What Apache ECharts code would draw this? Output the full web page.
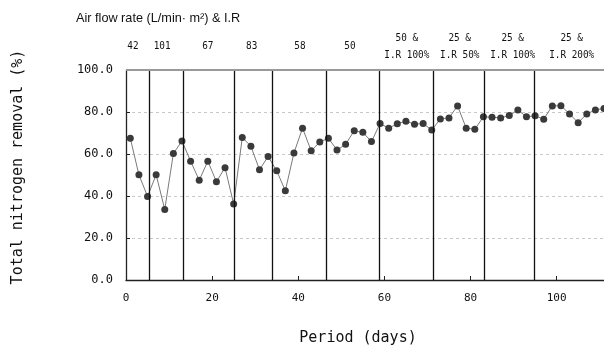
<!DOCTYPE html>
<html>
<head>
<meta charset="utf-8">
<script src="https://cdn.jsdelivr.net/npm/echarts@6/dist/echarts.min.js"></script>
<style>
	html, body{ margin:0; padding:0; background:#fff; }
	#main{ width:604px; height:351px; }
</style>
</head>
<body>
<div id="main"></div>
<script>
// operating days and total nitrogen removal (%)
var days = [1,3,5,7,9,11,13,15,17,19,21,23,25,27,29,31,33,35,37,39,41,43,45,47,49,51,53,55,
	57,59,61,63,65,67,69,71,73,75,77,79,81,83,85,87,89,91,93,95,97,99,101,103,105,107,109,111];
var tn_removal = [67.5,50.1,39.8,50.1,33.6,60.2,66.2,56.6,47.5,56.6,46.8,53.5,36.2,67.9,63.7,52.5,58.8,52.0,42.5,60.5,
	72.3,61.5,65.7,67.5,61.9,64.6,71.1,70.3,65.9,74.5,72.3,74.4,75.6,74.2,74.5,71.4,76.7,77.2,82.9,72.3,
	71.8,77.7,77.5,77.2,78.3,81.0,77.7,78.2,76.6,82.9,83.0,79.1,74.9,79.1,81.0,81.7];
// phase boundaries (days)
var phase_bounds = [5.3,13.4,25.1,33.9,46.6,58.7,71.4,83.1,94.7];
// phase labels and the day where each label is centred
var phase_labels = ['42','101','67','83','58','50','50 &\nI.R 100%','25 &\nI.R 50%','25 &\nI.R 100%','25 &\nI.R 200%'];
var phase_label_pos = [1.6,8.4,19,29.2,40.4,52,65.2,77.5,89.8,103.5];

var mono = 'DejaVu Sans Mono';
var chart = echarts.init(document.getElementById('main'));

var line_data = days.map(function(d, i){ return [d, tn_removal[i]]; });
var mark_data = phase_bounds.map(function(d){ return {xAxis: d}; });
mark_data.push({yAxis: 100, lineStyle: {color: '#999', type: 'solid', width: 2}});

chart.setOption({
	animation: false,
	title: {
		text: 'Air flow rate (L/min\u00b7 m\u00b2) & I.R',
		left: 71,
		top: 7,
		textStyle: {fontFamily: 'Liberation Sans', fontSize: 12.7, fontWeight: 'normal', color: '#111'}
	},
	grid: {left: 126, top: 70, right: 0, bottom: 69},
	xAxis: {
		type: 'value',
		min: 0,
		max: 111,
		interval: 20,
		name: 'Period (days)',
		nameLocation: 'middle',
		nameGap: 51,
		nameTextStyle: {fontFamily: mono, fontSize: 15, color: '#111', padding: [0, 14, 0, 0]},
		axisLine: {lineStyle: {color: '#222', width: 1.3}},
		axisTick: {inside: true, length: 4, lineStyle: {color: '#222'}},
		axisLabel: {fontFamily: mono, fontSize: 11, color: '#111', margin: 13, showMaxLabel: false},
		splitLine: {show: false}
	},
	yAxis: {
		type: 'value',
		min: 0,
		max: 100,
		interval: 20,
		name: 'Total nitrogen removal (%)',
		nameLocation: 'middle',
		nameGap: 100,
		nameTextStyle: {fontFamily: mono, fontSize: 15, color: '#111', padding: [0, 0, 0, 16]},
		axisLine: {show: true, lineStyle: {color: '#222', width: 1.3}},
		axisTick: {show: true, inside: true, length: 4, lineStyle: {color: '#222'}},
		axisLabel: {fontFamily: mono, fontSize: 12, color: '#111', margin: 13,
			formatter: function(v){ return v.toFixed(1); }},
		splitLine: {show: true, lineStyle: {color: '#c8c8c8', type: [3, 3], width: 1}}
	},
	series: [{
		type: 'line',
		data: line_data,
		symbol: 'circle',
		symbolSize: 7,
		clip: false,
		lineStyle: {color: '#7a7a7a', width: 1},
		itemStyle: {color: '#3a3a3a'},
		markLine: {
			silent: true,
			symbol: 'none',
			label: {show: false},
			lineStyle: {color: '#111', type: 'solid', width: 1.3},
			data: mark_data
		}
	}]
});

// phase annotations above the plot
var graphics = phase_labels.map(function(txt, i){
	var p = chart.convertToPixel({gridIndex: 0}, [phase_label_pos[i], 100]);
	var two = txt.indexOf('\n') >= 0;
	return {
		type: 'text',
		x: p[0],
		y: two ? p[1] - 23 : p[1] - 24,
		scaleX: 0.85,
		style: {
			text: txt,
			fontFamily: mono,
			fontSize: 11,
			lineHeight: 17,
			fill: '#111',
			align: 'center',
			verticalAlign: 'middle'
		}
	};
});
chart.setOption({graphic: graphics});
</script>
</body>
</html>
